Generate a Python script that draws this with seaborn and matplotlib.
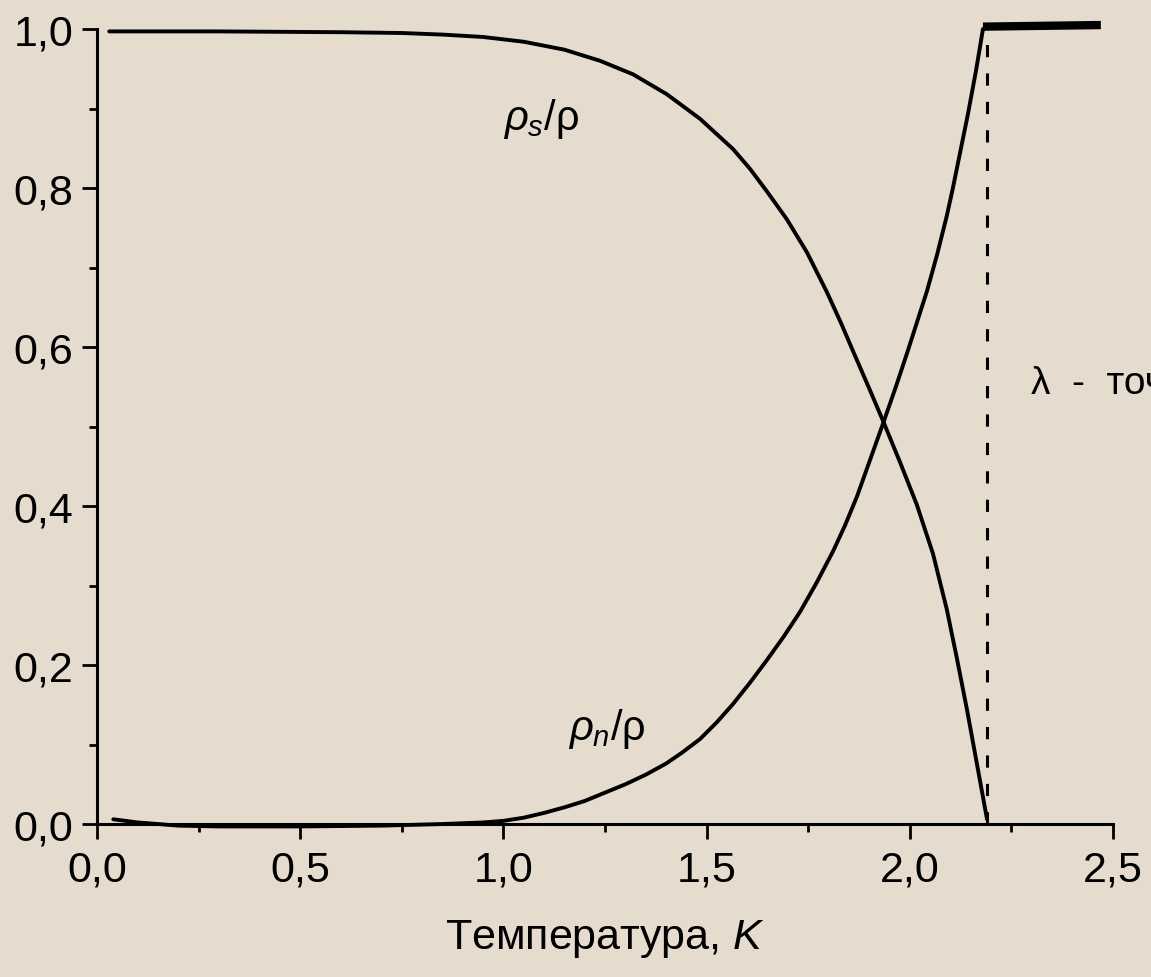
import matplotlib
matplotlib.use("Agg")
import matplotlib.pyplot as plt
import seaborn as sns
from matplotlib.ticker import MultipleLocator

# superfluid fraction rho_s/rho vs temperature
T_s = [0.03, 0.3, 0.6, 0.75, 0.85, 0.95, 1.05, 1.15, 1.238, 1.319, 1.402, 1.484,
       1.565, 1.607, 1.648, 1.697, 1.747, 1.796, 1.830, 1.861, 1.900, 1.935, 1.976,
       2.017, 2.057, 2.091, 2.116, 2.141, 2.165, 2.190]
rho_s = [0.997, 0.997, 0.996, 0.995, 0.993, 0.990, 0.984, 0.974, 0.960, 0.943, 0.918, 0.887,
         0.849, 0.824, 0.796, 0.761, 0.719, 0.669, 0.631, 0.594, 0.548, 0.506, 0.455,
         0.402, 0.340, 0.270, 0.208, 0.143, 0.076, 0.006]

# normal fraction rho_n/rho vs temperature
T_n = [0.04, 0.1, 0.2, 0.3, 0.5, 0.7, 0.85, 0.95, 1.0, 1.05, 1.1, 1.15, 1.2, 1.238,
       1.3, 1.35, 1.4, 1.44, 1.484, 1.525, 1.565, 1.607, 1.648, 1.69, 1.730, 1.77,
       1.811, 1.84, 1.870, 1.90, 1.935, 1.965, 1.993, 2.042, 2.067, 2.091, 2.106,
       2.143, 2.163, 2.180]
rho_n = [0.006, 0.002, -0.002, -0.003, -0.003, -0.002, 0.0, 0.002, 0.004, 0.008, 0.014, 0.021,
         0.029, 0.037, 0.050, 0.062, 0.076, 0.090, 0.107, 0.128, 0.151, 0.178, 0.206,
         0.236, 0.267, 0.303, 0.343, 0.375, 0.412, 0.455, 0.505, 0.549, 0.592, 0.670,
         0.716, 0.765, 0.800, 0.893, 0.948, 1.0]

# above the lambda point
T_above = [2.180, 2.47]
rho_above = [1.003, 1.005]

lambda_T = 2.19

x_ticks = [0.0, 0.5, 1.0, 1.5, 2.0, 2.5]
x_tick_labels = ['0,0', '0,5', '1,0', '1,5', '2,0', '2,5']
y_ticks = [0.0, 0.2, 0.4, 0.6, 0.8, 1.0]
y_tick_labels = ['0,0', '0,2', '0,4', '0,6', '0,8', '1,0']

sns.set_theme(style="ticks")
plt.rcParams['font.family'] = ['Liberation Sans', 'DejaVu Sans']
plt.rcParams['mathtext.fontset'] = 'custom'
plt.rcParams['mathtext.rm'] = 'Liberation Sans'
plt.rcParams['mathtext.it'] = 'Liberation Sans:italic'

bg = '#e5dccd'
fig = plt.figure(figsize=(11.51, 9.78), dpi=100)
fig.patch.set_facecolor(bg)
ax = fig.add_axes([0.0843, 0.1564, 0.8827, 0.8129])
ax.set_facecolor(bg)

sns.lineplot(x=T_s, y=rho_s, ax=ax, color='black', lw=2.8, estimator=None, sort=False, clip_on=False)
sns.lineplot(x=T_n, y=rho_n, ax=ax, color='black', lw=2.8, estimator=None, sort=False, clip_on=False)
sns.lineplot(x=T_above, y=rho_above, ax=ax, color='black', lw=6, estimator=None, sort=False,
             clip_on=False, solid_capstyle='butt')
ax.plot([lambda_T, lambda_T], [0.0, 1.0], color='black', lw=2.2, dashes=(4, 5.3), clip_on=False)

ax.set_xlim(0, 2.5)
ax.set_ylim(0, 1.0)
ax.set_xticks(x_ticks)
ax.set_xticklabels(x_tick_labels)
ax.set_yticks(y_ticks)
ax.set_yticklabels(y_tick_labels)
ax.xaxis.set_minor_locator(MultipleLocator(0.25))
ax.yaxis.set_minor_locator(MultipleLocator(0.1))
ax.tick_params(which='major', length=11, width=2, labelsize=31, color='black', labelcolor='black')
ax.tick_params(which='minor', length=6, width=2, color='black')
ax.tick_params(axis='x', which='major', pad=7)
ax.tick_params(axis='y', which='major', pad=6)

for side in ['top', 'right']:
    ax.spines[side].set_visible(False)
for side in ['left', 'bottom']:
    ax.spines[side].set_linewidth(2.2)
    ax.spines[side].set_color('black')

ax.set_xlabel('Температура, $\\mathit{K}$', fontsize=31, color='black', labelpad=20)
ax.set_ylabel('')

ax.text(0.998, 0.874, '$\\rho_s$/ρ', fontsize=30, color='black')
ax.text(1.158, 0.107, '$\\rho_n$/ρ', fontsize=30, color='black')
ax.text(2.298, 0.542, 'λ  -  точка', fontsize=28, color='black')

fig.savefig('out.png', dpi=100, facecolor=bg)
